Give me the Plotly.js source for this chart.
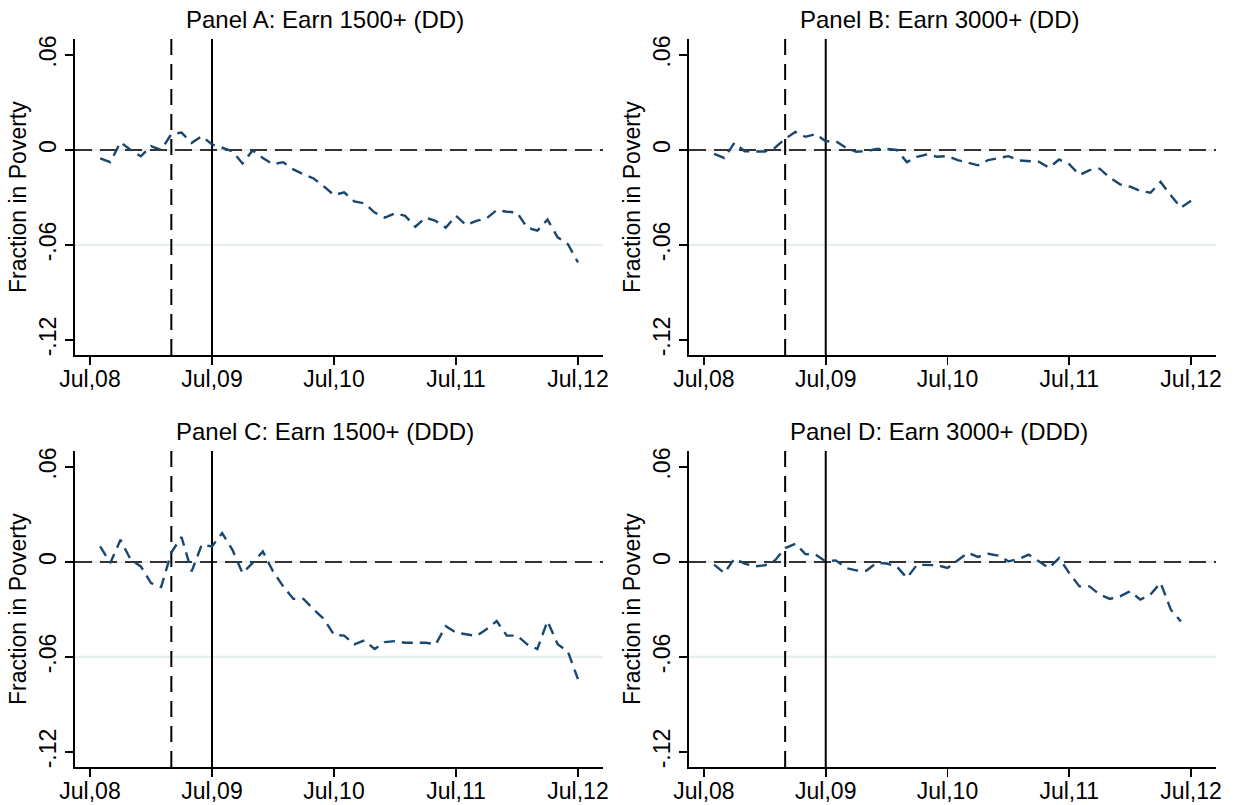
<!DOCTYPE html>
<html>
<head>
<meta charset="utf-8">
<script src="https://cdn.plot.ly/plotly-3.0.1.min.js"></script>
<style>
html,body{margin:0;padding:0;background:#fff;}
#chart{width:1235px;height:805px;}
</style>
</head>
<body>
<div id="chart"></div>
<script>
// ---------- data ----------
const months = [
 "2008-08","2008-09","2008-10","2008-11","2008-12","2009-01","2009-02","2009-03","2009-04","2009-05","2009-06","2009-07",
 "2009-08","2009-09","2009-10","2009-11","2009-12","2010-01","2010-02","2010-03","2010-04","2010-05","2010-06","2010-07",
 "2010-08","2010-09","2010-10","2010-11","2010-12","2011-01","2011-02","2011-03","2011-04","2011-05","2011-06","2011-07",
 "2011-08","2011-09","2011-10","2011-11","2011-12","2012-01","2012-02","2012-03","2012-04","2012-05","2012-06","2012-07"
];

const panelTitles = [
 "Panel A: Earn 1500+ (DD)",
 "Panel B: Earn 3000+ (DD)",
 "Panel C: Earn 1500+ (DDD)",
 "Panel D: Earn 3000+ (DDD)"
];

const panelA = [-0.0053,-0.0077,0.0049,0.0000,-0.0040,0.0024,0.0000,0.0100,0.0110,0.0045,0.0087,0.0035,
 0.0014,-0.0008,-0.0085,-0.0003,-0.0050,-0.0090,-0.0077,-0.0123,-0.0154,-0.0180,-0.0230,-0.0285,
 -0.0268,-0.0325,-0.0337,-0.0395,-0.0427,-0.0400,-0.0416,-0.0485,-0.0427,-0.0448,-0.0490,-0.0416,
 -0.0475,-0.0448,-0.0433,-0.0380,-0.0390,-0.0395,-0.0490,-0.0510,-0.0440,-0.0552,-0.0594,-0.0710];

const panelB = [-0.0024,-0.0050,0.0045,-0.0008,-0.0010,-0.0010,0.0014,0.0070,0.0114,0.0083,0.0100,0.0055,
 0.0055,0.0014,-0.0011,-0.0008,0.0007,0.0007,0.0000,-0.0077,-0.0043,-0.0028,-0.0043,-0.0039,
 -0.0064,-0.0080,-0.0097,-0.0064,-0.0050,-0.0039,-0.0066,-0.0072,-0.0074,-0.0112,-0.0060,-0.0090,
 -0.0158,-0.0127,-0.0118,-0.0175,-0.0217,-0.0232,-0.0259,-0.0270,-0.0202,-0.0286,-0.0364,-0.0320];

const panelC = [0.0098,-0.0006,0.0140,0.0015,-0.0028,-0.0133,-0.0158,0.0060,0.0158,-0.0059,0.0110,0.0098,
 0.0183,0.0078,-0.0070,-0.0006,0.0067,-0.0059,-0.0154,-0.0233,-0.0233,-0.0300,-0.0360,-0.0460,
 -0.0465,-0.0520,-0.0495,-0.0550,-0.0506,-0.0500,-0.0510,-0.0510,-0.0510,-0.0520,-0.0406,-0.0446,
 -0.0456,-0.0467,-0.0425,-0.0373,-0.0465,-0.0465,-0.0520,-0.0550,-0.0373,-0.0520,-0.0565,-0.0740];

const panelD = [-0.0017,-0.0070,0.0021,-0.0010,-0.0028,-0.0021,0.0010,0.0088,0.0115,0.0050,0.0046,0.0004,
 0.0010,-0.0038,-0.0053,-0.0055,-0.0006,-0.0010,-0.0028,-0.0101,-0.0017,-0.0017,-0.0021,-0.0038,
 0.0010,0.0058,0.0032,0.0052,0.0040,0.0004,0.0019,0.0046,0.0004,-0.0038,0.0025,-0.0070,
 -0.0154,-0.0154,-0.0206,-0.0233,-0.0217,-0.0185,-0.0238,-0.0206,-0.0131,-0.0300,-0.0375];

const xTickMonths = ["2008-07","2009-07","2010-07","2011-07","2012-07"];
const xTickLabels = ["Jul,08","Jul,09","Jul,10","Jul,11","Jul,12"];
const yTickVals = [0.06, 0, -0.06, -0.12];
const yTickLabels = [".06", "0", "-.06", "-.12"];
const gridVals = [0, -0.06];
const announceMonth = "2009-03";
const reformMonth = "2009-07";
const yTitle = "Fraction in Poverty";

// ---------- helpers ----------
function mIndex(s){ const p = s.split("-"); return (parseInt(p[0],10)-2008)*12 + (parseInt(p[1],10)-7); }
const W = 1235, H = 805;
const FONT = "Liberation Sans, Arial, Helvetica, sans-serif";

// panel boxes in px: [left, right, top, bottom]
const boxes = [
 [75, 603, 39, 355],
 [689, 1216, 39, 355],
 [75, 603, 451, 767],
 [689, 1216, 451, 767]
];
const series = [panelA, panelB, panelC, panelD];

const data = [];
const layout = {
  width: W, height: H,
  margin: {l:0, r:0, t:0, b:0},
  paper_bgcolor: "#fff", plot_bgcolor: "#fff",
  showlegend: false,
  font: {family: FONT, color: "#000"},
  shapes: [], annotations: []
};

const xRange = [-1.475, 50.46];
const yRange = [-0.1295, 0.0701];

boxes.forEach((b, k) => {
  const n = k + 1;
  const xa = n === 1 ? "x" : "x" + n;
  const ya = n === 1 ? "y" : "y" + n;
  const xKey = n === 1 ? "xaxis" : "xaxis" + n;
  const yKey = n === 1 ? "yaxis" : "yaxis" + n;
  const vals = series[k];
  data.push({
    type: "scatter", mode: "lines",
    x: months.slice(0, vals.length).map(mIndex), y: vals,
    xaxis: xa, yaxis: ya,
    line: {color: "#1a476f", width: 2.4, dash: "11px,7px"},
    hoverinfo: "skip"
  });
  layout[xKey] = {
    domain: [b[0]/W, b[1]/W], anchor: ya, range: xRange,
    showgrid: false, zeroline: false,
    showline: true, linecolor: "#000", linewidth: 1.8,
    ticks: "outside", ticklen: 8, tickwidth: 1.8, tickcolor: "#000",
    ticklabelstandoff: -5,
    tickvals: xTickMonths.map(mIndex), ticktext: xTickLabels,
    tickfont: {size: 23, family: FONT, color: "#000"}
  };
  layout[yKey] = {
    domain: [1 - b[3]/H, 1 - b[2]/H], anchor: xa, range: yRange,
    showgrid: false, zeroline: false,
    showline: true, linecolor: "#000", linewidth: 1.8,
    ticks: "outside", ticklen: 8, tickwidth: 1.8, tickcolor: "#000",
    tickvals: yTickVals, ticktext: yTickLabels, tickangle: -90,
    tickfont: {size: 23, family: FONT, color: "#000"}
  };
  // light grid lines
  gridVals.forEach(v => {
    layout.shapes.push({type: "line", xref: xa + " domain", yref: ya, x0: 0, x1: 1, y0: v, y1: v,
      line: {color: "#e6eef0", width: 2.2}, layer: "below"});
  });
  // zero dashed line
  layout.shapes.push({type: "line", xref: xa + " domain", yref: ya, x0: 0, x1: 1, y0: 0, y1: 0,
    line: {color: "#333", width: 2, dash: "17px,8px"}, layer: "below"});
  // vertical event lines
  layout.shapes.push({type: "line", xref: xa, yref: ya + " domain", x0: mIndex(announceMonth), x1: mIndex(announceMonth), y0: 0, y1: 1,
    line: {color: "#000", width: 2, dash: "16px,9px"}, layer: "below"});
  layout.shapes.push({type: "line", xref: xa, yref: ya + " domain", x0: mIndex(reformMonth), x1: mIndex(reformMonth), y0: 0, y1: 1,
    line: {color: "#000", width: 2}, layer: "below"});
  // title
  layout.annotations.push({text: panelTitles[k], xref: "paper", yref: "paper",
    x: (b[0] + 250)/W, y: 1 - (b[2] - 20)/H, xanchor: "center", yanchor: "middle",
    showarrow: false, font: {size: 24, family: FONT, color: "#000"}});
  // y title
  layout.annotations.push({text: yTitle, xref: "paper", yref: "paper",
    x: (b[0] - 57)/W, y: 1 - ((b[2] + b[3])/2)/H, xanchor: "center", yanchor: "middle",
    textangle: -90, showarrow: false, font: {size: 23, family: FONT, color: "#000"}});
});

Plotly.newPlot("chart", data, layout, {displayModeBar: false, staticPlot: true});
</script>
</body>
</html>
